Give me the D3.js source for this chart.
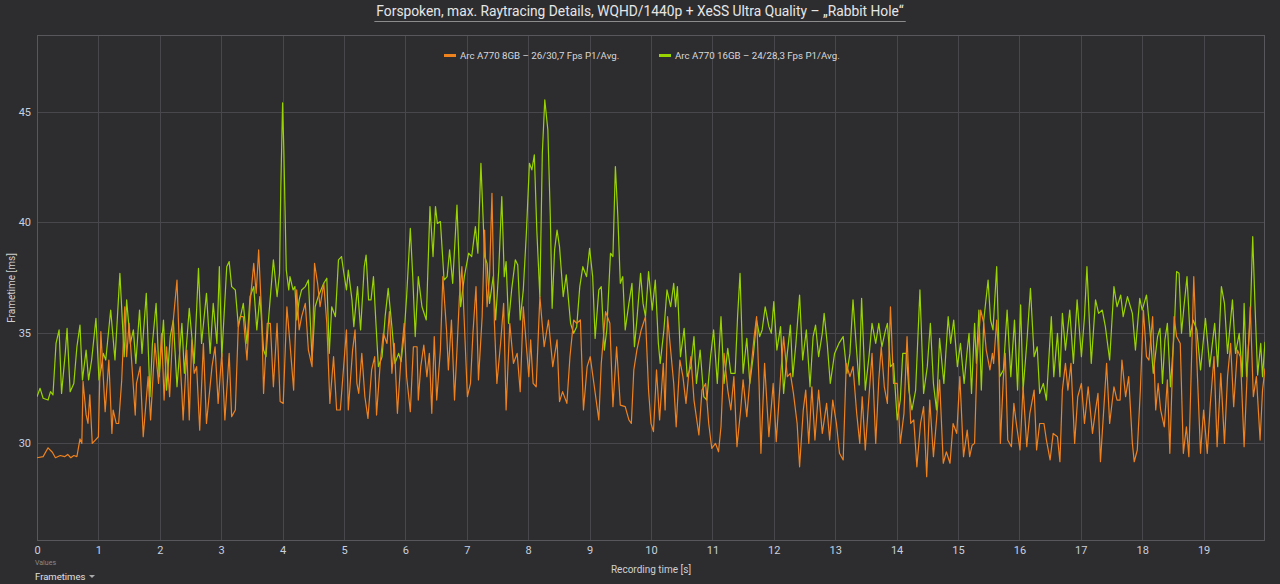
<!DOCTYPE html>
<html>
<head>
<meta charset="utf-8">
<script src="https://cdn.jsdelivr.net/npm/d3@7"></script>
<style>
  body { margin: 0; background: #2d2d30; }
  text { font-family: Roboto, "Open Sans", sans-serif; }
</style>
</head>
<body>
<div id="chart"></div>
<script>
// Arc A770 8GB (orange) - recording time [s] / frametime [ms]
const t8 = [0.00,0.10,0.18,0.25,0.30,0.38,0.45,0.50,0.55,0.60,0.65,0.70,0.73,0.75,0.80,0.83,0.86,0.90,0.95,1.00,
  1.04,1.11,1.17,1.22,1.24,1.29,1.33,1.38,1.43,1.46,1.50,1.54,1.60,1.62,1.68,1.73,1.81,1.85,1.92,1.98,
  2.03,2.07,2.11,2.16,2.22,2.28,2.32,2.36,2.38,2.44,2.48,2.52,2.56,2.60,2.65,2.71,2.76,2.85,2.90,2.95,
  3.01,3.06,3.13,3.17,3.23,3.28,3.31,3.36,3.42,3.47,3.53,3.57,3.61,3.66,3.69,3.75,3.80,3.85,3.91,3.96,
  4.01,4.07,4.12,4.18,4.23,4.27,4.31,4.37,4.42,4.48,4.52,4.57,4.61,4.67,4.72,4.77,4.83,4.88,4.94,
  5.04,5.07,5.14,5.18,5.21,5.24,5.29,5.34,5.39,5.45,5.50,5.53,5.59,5.64,5.70,5.74,5.78,5.82,5.87,5.93,5.98,
  6.02,6.08,6.13,6.19,6.21,6.25,6.30,6.35,6.39,6.43,6.47,6.51,6.57,6.61,6.67,6.70,6.75,6.80,6.84,6.88,6.92,6.96,
  7.01,7.06,7.10,7.15,7.19,7.25,7.29,7.33,7.37,7.41,7.45,7.49,7.55,7.60,7.64,7.70,7.76,7.82,7.87,7.92,7.98,
  8.01,8.04,8.08,8.13,8.19,8.26,8.33,8.40,8.47,8.51,8.56,8.63,8.68,8.74,8.79,8.85,8.90,8.96,
  9.01,9.07,9.15,9.19,9.26,9.33,9.38,9.44,9.50,9.58,9.64,9.68,9.72,9.77,9.84,9.91,9.96,
  10.00,10.04,10.09,10.14,10.20,10.23,10.27,10.32,10.37,10.41,10.47,10.52,10.57,10.61,10.65,10.70,10.78,10.83,10.89,10.94,10.99,
  11.05,11.10,11.14,11.19,11.25,11.30,11.35,11.40,11.46,11.50,11.56,11.62,11.68,11.72,11.76,11.79,11.85,11.92,11.99,
  12.04,12.11,12.16,12.22,12.27,12.32,12.38,12.42,12.48,12.52,12.57,12.62,12.67,12.73,12.79,12.86,12.91,12.96,
  13.02,13.07,13.13,13.18,13.24,13.29,13.35,13.40,13.44,13.49,13.55,13.60,13.66,13.71,13.75,13.80,13.85,13.90,13.95,
  14.01,14.06,14.12,14.17,14.23,14.28,14.33,14.39,14.44,14.49,14.54,14.60,14.65,14.70,14.76,14.81,14.87,14.92,14.98,
  15.03,15.09,15.15,15.19,15.23,15.27,15.31,15.37,15.42,15.46,15.52,15.56,15.58,15.63,15.67,15.69,15.74,15.77,15.81,15.87,15.91,15.95,
  16.01,16.06,16.12,16.17,16.24,16.28,16.33,16.40,16.44,16.50,16.55,16.62,16.66,16.70,16.75,16.79,16.84,16.90,16.95,
  17.01,17.06,17.12,17.19,17.24,17.28,17.32,17.38,17.42,17.47,17.54,17.59,17.64,17.67,17.73,17.78,17.84,17.87,17.92,17.97,
  18.02,18.07,18.11,18.17,18.22,18.26,18.30,18.36,18.41,18.45,18.52,18.56,18.62,18.67,18.72,18.76,18.79,18.84,18.90,18.95,
  19.00,19.06,19.11,19.17,19.22,19.28,19.34,19.39,19.44,19.49,19.55,19.60,19.66,19.71,19.76,19.81,19.86,19.92,19.96,20.00];
const ms8 = [29.35,29.4,29.8,29.6,29.35,29.45,29.4,29.5,29.35,29.45,29.4,30.2,30.0,32.8,31.3,30.9,32.2,30.0,30.15,30.3,
  35.05,31.43,33.77,30.45,31.51,30.9,30.9,32.87,36.18,33.92,35.43,33.77,31.28,32.71,33.47,30.3,33.02,31.06,34.52,32.71,
  34.98,31.96,34.37,32.11,35.58,37.39,34.22,32.26,31.06,34.22,31.06,34.68,33.17,33.47,30.6,34.52,30.9,33.47,34.37,31.81,
  34.07,31.06,34.07,31.21,31.51,35.43,35.73,35.73,33.77,36.33,38.14,36.79,38.75,35.73,32.26,35.43,35.43,32.56,35.43,31.89,
  31.81,36.18,34.52,32.41,36.94,35.13,35.73,36.33,34.22,33.47,38.14,37.24,36.18,37.24,35.43,31.81,33.92,31.51,31.51,
  35.13,31.51,34.22,35.13,32.71,32.26,34.07,32.11,31.13,33.32,33.92,31.28,33.62,34.98,34.52,35.96,33.17,34.52,31.36,33.92,35.43,
  33.02,31.43,34.37,34.37,31.96,33.47,34.45,33.02,34.07,31.36,34.83,31.96,34.22,37.54,35.13,33.32,35.58,31.96,34.22,36.64,37.99,35.43,
  32.11,32.71,34.98,37.09,32.87,35.73,39.65,36.18,37.54,41.31,35.43,32.71,34.52,36.33,31.51,35.43,33.62,34.07,32.34,36.18,34.07,
  33.02,34.68,32.71,32.56,36.64,34.37,35.58,33.47,34.68,31.89,32.34,31.81,33.92,35.58,35.43,35.58,31.51,33.47,
  33.92,32.71,31.06,33.62,35.96,35.43,31.66,34.37,31.73,31.66,31.06,30.9,33.32,34.22,35.13,35.73,32.41,
  30.9,30.53,33.32,31.06,33.62,31.51,35.73,34.22,32.71,30.75,33.77,33.02,31.81,33.02,33.92,31.96,30.38,32.41,32.71,30.9,29.77,
  30.0,29.62,30.75,34.07,32.41,31.51,33.02,29.85,31.51,32.87,31.21,33.17,34.83,35.73,32.71,29.55,33.62,30.3,32.71,
  30.08,33.02,34.83,33.02,33.17,32.26,30.9,28.94,31.51,32.41,30.0,32.56,30.15,32.41,30.45,31.81,30.15,31.96,
  30.9,29.55,29.25,33.62,33.02,33.47,31.36,30.0,32.11,29.7,32.11,34.07,30.0,32.87,34.37,32.56,31.81,36.18,32.71,
  32.71,30.0,31.36,34.83,30.9,31.06,28.94,30.9,31.66,28.49,31.96,29.4,31.06,32.87,29.1,29.62,29.1,30.9,30.45,
  33.02,29.4,30.6,29.4,29.92,30.0,33.77,36.03,35.43,34.22,33.32,34.07,33.62,35.58,33.47,30.0,33.02,34.07,30.15,29.85,31.81,30.9,
  29.7,32.56,29.85,31.36,32.41,29.7,30.9,30.9,30.15,29.25,30.45,30.3,29.17,32.41,33.62,32.41,33.62,30.0,32.11,
  32.71,30.9,32.56,30.45,31.51,32.26,29.17,31.81,33.62,30.9,32.56,31.96,31.96,33.77,32.11,33.02,30.0,29.17,29.7,32.41,
  36.03,33.92,33.77,35.73,31.51,32.71,31.51,30.75,32.87,29.55,35.73,34.83,34.52,29.55,30.75,29.4,32.41,37.54,33.02,29.55,
  31.51,29.55,31.81,33.92,29.85,33.17,30.0,33.02,34.52,31.66,34.22,33.92,29.85,33.17,36.18,32.11,33.02,30.15,32.41,33.39];

// Arc A770 16GB (green)
const t16 = [0.00,0.05,0.10,0.18,0.22,0.26,0.31,0.36,0.40,0.46,0.49,0.54,0.60,0.65,0.70,0.74,0.80,0.84,0.89,0.96,
  1.01,1.05,1.08,1.12,1.20,1.27,1.35,1.42,1.46,1.52,1.57,1.61,1.67,1.71,1.78,1.84,1.88,1.94,1.99,
  2.06,2.11,2.17,2.22,2.28,2.36,2.40,2.48,2.56,2.63,2.68,2.76,2.82,2.87,2.93,2.97,
  3.01,3.09,3.13,3.17,3.23,3.28,3.36,3.42,3.47,3.53,3.58,3.63,3.69,3.73,3.77,3.85,3.91,3.95,3.97,
  4.00,4.02,4.06,4.10,4.12,4.17,4.20,4.23,4.27,4.31,4.37,4.42,4.48,4.53,4.58,4.67,4.72,4.76,4.80,4.86,4.91,4.96,
  4.99,5.04,5.07,5.13,5.16,5.22,5.27,5.33,5.36,5.40,5.44,5.48,5.52,5.56,5.62,5.67,5.72,5.78,5.83,5.89,5.93,5.98,
  6.02,6.08,6.12,6.16,6.21,6.27,6.34,6.40,6.45,6.49,6.52,6.57,6.63,6.68,6.72,6.77,6.84,6.90,6.96,
  7.03,7.08,7.14,7.18,7.23,7.29,7.33,7.37,7.43,7.47,7.52,7.57,7.61,7.64,7.68,7.73,7.79,7.83,7.87,7.92,7.97,
  8.02,8.06,8.10,8.14,8.19,8.23,8.27,8.32,8.36,8.39,8.43,8.47,8.51,8.57,8.62,8.69,8.74,8.79,8.84,8.89,8.95,
  9.00,9.05,9.09,9.15,9.19,9.24,9.28,9.34,9.38,9.42,9.46,9.50,9.54,9.58,9.64,9.69,9.73,9.77,9.83,9.87,9.91,9.96,
  10.02,10.07,10.12,10.15,10.21,10.26,10.32,10.37,10.40,10.43,10.48,10.54,10.59,10.65,10.70,10.74,10.80,10.86,10.91,10.97,
  11.02,11.08,11.14,11.19,11.25,11.30,11.37,11.41,11.45,11.50,11.56,11.61,11.67,11.72,11.77,11.81,11.86,11.92,11.96,
  12.00,12.05,12.11,12.16,12.22,12.27,12.31,12.36,12.42,12.47,12.53,12.59,12.64,12.68,12.73,12.79,12.82,12.87,12.92,12.99,
  13.06,13.13,13.19,13.24,13.29,13.34,13.39,13.43,13.49,13.55,13.60,13.66,13.71,13.76,13.82,13.85,13.90,13.95,
  14.01,14.06,14.10,14.16,14.20,14.25,14.31,14.38,14.44,14.50,14.55,14.60,14.65,14.70,14.77,14.84,14.88,14.93,14.99,
  15.04,15.10,15.15,15.18,15.22,15.27,15.30,15.34,15.38,15.42,15.49,15.53,15.57,15.63,15.68,15.74,15.80,15.86,15.92,15.97,
  16.02,16.06,16.12,16.18,16.24,16.29,16.33,16.39,16.44,16.52,16.56,16.62,16.66,16.70,16.75,16.82,16.88,16.94,
  17.01,17.06,17.10,17.17,17.24,17.29,17.35,17.40,17.47,17.54,17.59,17.65,17.69,17.76,17.84,17.89,17.96,
  18.00,18.07,18.13,18.18,18.25,18.29,18.33,18.37,18.41,18.46,18.52,18.56,18.60,18.64,18.68,18.73,18.78,18.83,18.89,18.95,
  19.03,19.10,19.18,19.23,19.29,19.34,19.39,19.47,19.52,19.58,19.63,19.66,19.70,19.76,19.80,19.84,19.88,19.93,19.96,20.00];
const ms16 = [32.11,32.49,32.04,31.96,32.34,32.19,34.52,35.13,32.26,34.07,35.2,32.34,32.71,34.37,35.35,32.87,34.22,32.87,33.77,35.66,
  32.87,33.47,34.07,33.77,36.03,33.77,37.69,33.92,36.49,34.52,35.13,33.62,36.03,34.07,36.79,32.11,34.52,36.33,33.02,
  35.58,32.41,34.83,35.58,32.56,35.43,33.17,36.11,33.62,37.92,34.52,36.79,34.07,36.33,34.52,37.99,
  33.92,37.99,38.22,37.09,36.94,35.28,36.33,34.52,36.64,37.09,35.13,36.64,34.22,33.92,35.58,38.3,36.64,37.69,41.46,
  45.4,43.27,37.84,36.94,37.54,36.94,37.09,35.58,36.49,36.94,37.09,37.39,33.77,36.18,36.64,37.24,37.47,34.07,36.18,35.73,38.3,38.45,
  37.84,36.94,37.84,36.49,35.28,37.09,35.13,37.99,38.52,36.49,36.49,37.54,35.43,33.47,33.92,35.73,37.01,35.28,33.62,34.07,33.7,34.98,
  36.64,39.73,37.54,34.83,37.54,36.18,35.58,40.71,38.45,40.71,39.95,40.03,37.39,37.54,38.75,37.24,40.78,36.18,37.54,
  38.6,38.45,39.8,38.6,42.67,38.45,38.14,36.33,37.54,35.58,37.84,41.16,37.54,38.22,35.43,36.94,38.3,38.07,35.58,36.94,39.5,
  42.67,42.37,43.05,39.65,36.64,43.12,45.54,44.18,40.26,36.11,38.75,39.65,38.9,36.64,37.62,35.43,34.98,35.28,37.09,37.99,37.54,
  38.82,37.54,34.75,36.94,37.09,34.22,35.13,38.6,38.45,42.52,40.26,37.24,37.54,35.13,36.33,37.24,34.37,35.58,37.69,36.33,35.73,37.77,
  36.03,37.39,34.52,33.62,35.13,36.94,36.18,37.24,36.18,37.09,33.92,35.2,33.02,33.47,34.83,32.71,34.22,32.11,31.96,33.92,
  35.13,32.71,35.73,32.71,34.3,33.17,33.17,35.73,37.69,33.17,34.75,32.71,34.07,35.58,34.83,35.13,36.18,35.28,34.98,
  36.41,34.22,35.28,32.26,34.07,35.35,33.02,34.52,36.71,33.77,35.13,32.56,34.83,35.35,33.92,34.98,35.88,34.52,32.71,34.07,
  34.52,34.83,33.17,34.07,36.49,34.52,32.64,36.56,32.41,33.92,35.43,34.52,35.43,34.37,35.13,35.43,33.47,33.62,
  31.06,31.96,34.07,34.07,32.41,31.51,32.41,36.94,32.26,33.47,35.43,32.71,31.51,34.75,32.71,35.73,34.52,35.58,33.47,
  34.52,32.71,34.22,34.98,32.26,35.43,33.62,36.03,32.41,35.58,37.39,35.58,35.13,37.99,33.02,33.32,36.03,33.02,35.58,32.41,
  36.26,32.41,34.52,37.01,33.92,34.37,32.26,32.71,31.96,35.73,33.02,34.98,33.02,35.88,34.22,36.03,33.62,36.49,
  33.92,35.73,37.99,33.62,36.49,35.88,36.03,35.28,33.77,37.09,36.18,36.71,35.73,36.64,35.88,34.22,36.56,
  36.03,36.71,34.98,33.17,34.83,35.2,32.71,34.68,35.43,32.56,34.98,37.77,37.69,34.98,36.18,37.54,34.83,35.58,35.13,33.32,
  35.66,33.47,35.43,33.47,37.09,36.33,34.07,36.49,34.07,34.98,33.02,36.33,33.02,35.73,39.35,36.03,33.09,34.52,33.02,34.6];

const seriesNames = ["Arc A770 8GB \u2013 26/30,7 Fps P1/Avg.", "Arc A770 16GB \u2013 24/28,3 Fps P1/Avg."];
const seriesColors = ["#f0821e", "#9ad400"];
const xTicks = d3.range(0, 20);
const yTicks = [30, 35, 40, 45];

const W = 1280, H = 584;
const plotL = 37, plotR = 1265, plotT = 35, plotB = 540;

const svg = d3.select("#chart").append("svg")
  .attr("width", W).attr("height", H)
  .style("background", "#2d2d30");

const x = d3.scaleLinear().domain([0, 20]).range([plotL, plotR]);
const y = d3.scaleLinear().domain([25.63, 48.47]).range([plotB, plotT]);

// grid
svg.append("g").selectAll("line").data(xTicks.slice(1)).join("line")
  .attr("x1", d => Math.round(x(d)) + 0.5).attr("x2", d => Math.round(x(d)) + 0.5)
  .attr("y1", plotT).attr("y2", plotB)
  .attr("stroke", "#48484c").attr("stroke-width", 1);
svg.append("g").selectAll("line").data(yTicks).join("line")
  .attr("x1", plotL).attr("x2", plotR)
  .attr("y1", d => Math.round(y(d)) + 0.5).attr("y2", d => Math.round(y(d)) + 0.5)
  .attr("stroke", "#48484c").attr("stroke-width", 1);

// frame
svg.append("rect")
  .attr("x", plotL + 0.5).attr("y", plotT + 0.5)
  .attr("width", plotR - plotL - 1).attr("height", plotB - plotT)
  .attr("fill", "none").attr("stroke", "#58585c");

// lines
const line = d3.line().x(d => x(d[0])).y(d => y(d[1]));
const data8 = t8.map((t, i) => [t, ms8[i]]);
const data16 = t16.map((t, i) => [t, ms16[i]]);
svg.append("clipPath").attr("id", "clip").append("rect")
  .attr("x", plotL).attr("y", plotT).attr("width", plotR - plotL).attr("height", plotB - plotT);
[data16, data8].forEach((d, i) => {
  svg.append("path").datum(d)
    .attr("clip-path", "url(#clip)")
    .attr("fill", "none")
    .attr("stroke", i === 0 ? seriesColors[1] : seriesColors[0])
    .attr("stroke-width", 1.2)
    .attr("stroke-linejoin", "round")
    .attr("d", line);
});

// axes labels
const xAxis = d3.axisBottom(x).tickValues(xTicks).tickSize(0).tickPadding(6);
const gx = svg.append("g").attr("transform", `translate(0,${plotB})`).call(xAxis);
gx.select(".domain").remove();
gx.selectAll("text").attr("fill", "#c9d0de").style("font-size", "11px");

const yAxis = d3.axisLeft(y).tickValues(yTicks).tickSize(0).tickPadding(6);
const gy = svg.append("g").attr("transform", `translate(${plotL},0)`).call(yAxis);
gy.select(".domain").remove();
gy.selectAll("text").attr("fill", "#c9d0de").style("font-size", "11px");

svg.append("text").attr("x", 651).attr("y", 573).attr("text-anchor", "middle")
  .attr("fill", "#d0d0d0").style("font-size", "10px").text("Recording time [s]");
svg.append("text").attr("transform", "translate(15,288) rotate(-90)").attr("text-anchor", "middle")
  .attr("fill", "#d0d0d0").style("font-size", "10px").text("Frametime [ms]");

svg.append("text").attr("x", 35).attr("y", 565).attr("fill", "#8a8a8a").style("font-size", "7px").text("Values");
svg.append("text").attr("x", 35).attr("y", 580).attr("fill", "#e0e0e0").style("font-size", "9.5px").text("Frametimes");
svg.append("path").attr("d", "M89,575 L95,575 L92,578 Z").attr("fill", "#aaaaaa");

// title
const title = svg.append("text").attr("x", 640).attr("y", 16).attr("text-anchor", "middle")
  .attr("fill", "#e6e6e6").style("font-size", "13.8px")
  .text("Forspoken, max. Raytracing Details, WQHD/1440p + XeSS Ultra Quality \u2013 \u201eRabbit Hole\u201c");
const tb = title.node().getBBox();
svg.append("line").attr("x1", tb.x - 2).attr("x2", tb.x + tb.width + 2)
  .attr("y1", 21.5).attr("y2", 21.5).attr("stroke", "#8c8c8c");

// legend
const legX = [444, 659];
seriesNames.forEach((n, i) => {
  svg.append("rect").attr("x", legX[i]).attr("y", 54).attr("width", 12).attr("height", 3)
    .attr("fill", seriesColors[i]);
  svg.append("text").attr("x", legX[i] + 16).attr("y", 59)
    .attr("fill", "#d8d8d8").style("font-size", "9.7px").text(n);
});
</script>
</body>
</html>
